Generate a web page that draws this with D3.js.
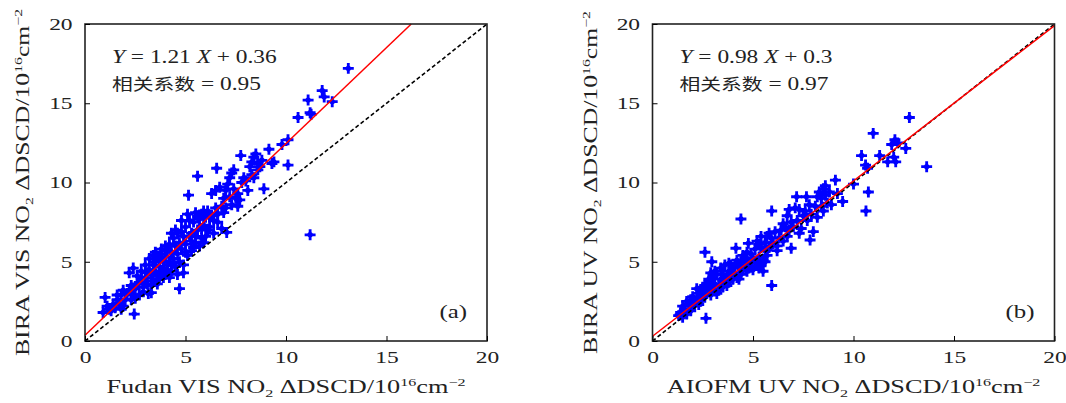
<!DOCTYPE html>
<html>
<head>
<meta charset="utf-8">
<script src="https://cdn.jsdelivr.net/npm/d3@7"></script>
<style>
  body { margin: 0; background: #fff; }
  text { font-family: "Liberation Serif", "Noto Sans CJK SC", serif; fill: #222; }
</style>
</head>
<body>
<script>
// axis ticks, shared by both panels
var ticks = [0, 5, 10, 15, 20];

// panel (a): Fudan VIS vs BIRA VIS
var fudanVis = [
  [0.9,1.8],[1.0,2.75],[1.2,2.0],[1.3,1.9],[1.4,2.3],[1.5,2.1],[1.6,2.6],[1.7,2.4],[1.8,2.9],[1.9,3.2],[1.9,2.2],[2.0,2.6],[1.1,2.2],[1.6,2.9],[1.8,2.0],
  [2.1,3.0],[2.2,4.3],[2.4,4.6],[2.45,1.7],[2.3,2.6],[2.5,3.3],[2.6,3.6],[2.7,2.9],[2.8,3.9],[2.9,3.4],[2.6,4.1],[2.3,3.5],[2.8,4.4],[2.9,3.1],[2.5,2.7],[2.7,3.7],[2.2,3.2],[2.4,2.9],
  [3.0,4.0],[3.1,3.6],[3.15,3.0],[3.2,4.5],[3.3,4.2],[3.3,3.05],[3.4,4.8],[3.4,3.8],[3.5,5.0],[3.5,4.4],[3.6,4.1],[3.6,5.3],[3.7,4.7],[3.7,3.9],[3.8,5.5],[3.8,4.3],[3.9,5.0],[3.9,4.6],[3.2,5.2],[3.0,4.8],[3.5,5.6],[3.8,5.8],[3.3,3.5],[3.6,3.6],[3.9,4.0],[3.4,5.4],[3.1,4.3],[3.7,5.1],
  [4.0,5.3],[4.0,4.2],[4.1,5.7],[4.1,4.8],[4.2,6.1],[4.2,5.0],[4.3,4.4],[4.3,5.6],[4.4,6.5],[4.4,5.2],[4.5,6.0],[4.5,4.7],[4.6,5.5],[4.6,6.8],[4.7,3.3],[4.7,6.2],[4.8,7.6],[4.8,5.8],[4.9,4.8],[4.9,4.3],[4.9,6.6],[4.0,6.0],[4.2,4.0],[4.5,7.0],[4.3,6.8],[4.7,5.0],[4.1,4.5],[4.6,4.2],[4.4,4.9],[4.8,6.9],
  [5.0,6.1],[5.0,7.2],[5.1,5.4],[5.1,8.0],[5.15,9.2],[5.2,6.6],[5.3,6.8],[5.3,5.7],[5.4,7.5],[5.5,6.2],[5.5,8.1],[5.6,10.4],[5.6,7.0],[5.7,6.0],[5.7,7.7],[5.8,6.5],[5.8,8.0],[5.9,7.3],[5.9,6.2],[5.2,7.6],[5.4,5.9],[5.6,7.9],[5.3,6.3],[5.5,6.6],[5.8,7.1],[5.0,5.6],[5.9,8.2],
  [6.0,7.8],[6.0,6.6],[6.1,8.2],[6.2,7.2],[6.3,9.3],[6.3,7.9],[6.4,6.8],[6.5,8.4],[6.55,10.9],[6.6,7.5],[6.7,9.7],[6.8,7.1],[6.8,8.5],[6.9,9.0],[6.9,8.1],[6.5,9.5],[6.2,7.8],[6.4,7.6],[6.1,7.0],[6.6,8.0],
  [7.0,8.4],[7.05,6.85],[7.1,9.9],[7.2,10.3],[7.3,10.6],[7.3,8.6],[7.4,9.6],[7.5,9.0],[7.6,8.5],[7.7,8.9],[7.75,11.7],[7.8,10.0],[7.9,10.3],[7.2,9.1],[7.4,10.8],[7.0,9.5],[7.6,9.3],[8.0,10.1],
  [8.1,9.5],[8.2,11.0],[8.3,10.5],[8.4,11.6],[8.5,11.8],[8.4,10.3],[8.6,11.2],[8.7,11.0],[8.9,9.6],[8.8,11.4],[8.3,11.3],[8.6,10.8],
  [9.15,12.1],[9.3,11.2],[9.4,11.3],[9.8,12.4],[10.1,12.7],[10.1,11.1],[10.6,14.1],[11.1,15.2],[11.2,14.4],[11.25,14.3],[11.2,6.7],[11.8,15.8],[11.9,15.4],[12.3,15.1],[13.1,17.2]
];

// panel (b): AIOFM UV vs BIRA UV
var aiofmUv = [
  [1.3,1.6],[1.37,1.64],[1.4,1.8],[1.5,1.5],[1.6,2.0],[1.7,1.7],[1.8,2.3],[1.9,1.9],[1.9,2.6],[1.5,2.2],[1.7,2.5],[2.0,2.2],
  [2.0,2.8],[2.1,2.3],[2.2,2.6],[2.3,3.0],[2.4,2.5],[2.5,3.4],[2.6,2.9],[2.61,5.6],[2.66,1.43],[2.7,3.6],[2.8,3.1],[2.9,4.3],[2.95,5.0],[2.9,3.5],[2.2,3.3],[2.5,2.8],[2.7,3.0],[2.4,3.2],[2.8,3.9],[2.3,2.3],[2.6,3.5],[2.9,2.9],
  [3.0,3.3],[3.0,4.0],[3.1,3.6],[3.2,3.0],[3.2,4.2],[3.3,3.5],[3.4,3.9],[3.4,4.6],[3.5,3.4],[3.5,4.2],[3.6,3.8],[3.6,4.8],[3.7,4.0],[3.8,4.4],[3.8,3.7],[3.9,4.1],[3.9,4.8],[3.3,3.2],[3.7,3.5],[3.1,4.4],[3.5,3.8],[3.8,4.9],
  [4.0,4.3],[4.0,3.9],[4.1,4.7],[4.15,5.85],[4.2,4.0],[4.3,4.6],[4.4,4.2],[4.4,5.0],[4.4,7.7],[4.5,4.5],[4.6,5.2],[4.6,4.8],[4.7,4.4],[4.77,6.16],[4.8,5.0],[4.9,5.5],[4.9,4.7],[4.2,5.1],[4.5,5.4],[4.3,3.9],[4.7,5.6],[4.8,4.6],
  [5.0,5.2],[5.0,4.5],[5.1,5.8],[5.2,4.9],[5.2,6.3],[5.3,5.3],[5.3,4.6],[5.4,5.9],[5.4,6.6],[5.5,5.1],[5.5,4.4],[5.6,5.7],[5.6,6.2],[5.7,5.4],[5.7,6.6],[5.8,5.9],[5.9,6.0],[5.93,8.2],[5.93,3.5],[5.9,6.5],[5.1,5.0],[5.3,6.1],[5.6,5.0],[5.8,6.8],[5.4,4.8],
  [6.0,6.2],[6.1,6.9],[6.2,6.0],[6.3,6.5],[6.4,7.0],[6.5,6.3],[6.6,7.2],[6.7,6.6],[6.8,8.3],[6.8,7.0],[6.9,5.85],[6.9,7.5],[6.2,5.7],[6.5,7.4],[6.7,7.9],
  [7.0,7.2],[7.1,8.4],[7.17,9.1],[7.2,7.6],[7.3,8.3],[7.4,7.1],[7.5,7.9],[7.6,8.2],[7.66,9.1],[7.7,7.6],[7.84,6.37],[7.9,8.0],[8.0,6.9],[7.8,8.6],[7.3,6.8],
  [8.1,8.5],[8.2,7.8],[8.3,9.4],[8.4,9.0],[8.5,9.6],[8.5,8.2],[8.6,9.2],[8.7,8.7],[8.8,9.4],[8.9,8.6],[8.4,8.5],[8.6,9.8],[8.2,9.1],
  [9.1,10.15],[9.2,9.3],[9.46,8.8],[10.0,9.9],[10.4,11.7],[10.6,11.1],[10.62,8.2],[10.74,9.4],[10.7,10.9],[10.98,13.1],[11.3,11.7],[11.7,11.3],[11.9,12.4],[12.0,11.6],[12.06,12.7],[12.1,11.3],[12.2,12.5],[12.6,12.15],[12.78,14.1],[13.64,11.0]
];

// fit lines [slope, intercept] and 1:1 reference line
var fitA = [1.21, 0.36];
var fitB = [0.98, 0.3];
var oneToOne = [[0, 0], [20, 20]];

// the original figure is wide-set, so text gets stretched sideways
var SX = 1.38;

// thick plus with a filled diamond centre
var starSymbol = {
  draw: function(ctx, size) {
    var r = Math.sqrt(size) / 2, a = r * 0.26, b = r * 0.72;
    ctx.moveTo(-a, -r); ctx.lineTo(a, -r); ctx.lineTo(a, -a);
    ctx.lineTo(r, -a); ctx.lineTo(r, a); ctx.lineTo(a, a);
    ctx.lineTo(a, r); ctx.lineTo(-a, r); ctx.lineTo(-a, a);
    ctx.lineTo(-r, a); ctx.lineTo(-r, -a); ctx.lineTo(-a, -a);
    ctx.closePath();
    ctx.moveTo(0, -b); ctx.lineTo(b, 0); ctx.lineTo(0, b); ctx.lineTo(-b, 0);
    ctx.closePath();
  }
};

var svg = d3.select("body").append("svg").attr("width", 1066).attr("height", 403);

function putText(g, x, y, size, rot, sx) {
  return g.append("text")
    .attr("transform", "translate(" + x + "," + y + ")" + (rot ? " rotate(" + rot + ")" : "") + " scale(" + (sx || SX) + ",1)")
    .style("font-size", size + "px");
}

function drawPanel(p) {
  var x = d3.scaleLinear().domain([0, 20]).range([p.left, p.left + 402]);
  var y = d3.scaleLinear().domain([0, 20]).range([341, 24]);
  var g = svg.append("g");

  // fitted line, clipped at y = 20
  var xEnd = Math.min(20, (20 - p.fit[1]) / p.fit[0]);
  var fitPts = [[0, p.fit[1]], [xEnd, p.fit[0] * xEnd + p.fit[1]]];

  var line = d3.line().x(function(d) { return x(d[0]); }).y(function(d) { return y(d[1]); });

  g.append("g").selectAll("path")
    .data(p.data)
    .enter().append("path")
      .attr("transform", function(d) { return "translate(" + x(d[0]) + "," + y(d[1]) + ")"; })
      .attr("d", d3.symbol().type(starSymbol).size(120))
      .attr("fill", "#0000ff");

  g.append("path").attr("d", line(oneToOne))
    .attr("fill", "none").attr("stroke", "#000").attr("stroke-width", 1.6)
    .attr("stroke-dasharray", "4,2.5");
  g.append("path").attr("d", line(fitPts))
    .attr("fill", "none").attr("stroke", "#ff0000").attr("stroke-width", 1.5);

  // frame
  g.append("rect").attr("x", x(0)).attr("y", y(20))
    .attr("width", x(20) - x(0)).attr("height", y(0) - y(20))
    .attr("fill", "none").attr("stroke", "#222").attr("stroke-width", 1.6);

  // inward ticks
  g.append("g").attr("transform", "translate(0,341)")
    .call(d3.axisBottom(x).tickValues(ticks).tickSize(-5).tickPadding(10).tickFormat(d3.format("d")))
    .call(function(a) { a.select(".domain").remove(); })
    .call(function(a) {
      a.selectAll("text").style("font-size", "17px").attr("fill", "#222")
        .attr("transform", "scale(" + SX + ",1)");
    });
  g.append("g").attr("transform", "translate(" + p.left + ",0)")
    .call(d3.axisLeft(y).tickValues(ticks).tickSize(-5).tickPadding(9).tickFormat(d3.format("d")))
    .call(function(a) { a.select(".domain").remove(); })
    .call(function(a) {
      a.selectAll("text").style("font-size", "17px").attr("fill", "#222")
        .attr("transform", "scale(" + SX + ",1)");
    });

  // equation block
  var eq = putText(g, p.left + 27, 63, 18, 0, 1.3);
  eq.append("tspan").attr("font-style", "italic").text("Y");
  eq.append("tspan").text(" = " + p.fit[0] + " ");
  eq.append("tspan").attr("font-style", "italic").text("X");
  eq.append("tspan").text(" + " + p.fit[1]);
  var rr = putText(g, p.left + 27, 90, 18, 0, 1.3);
  rr.append("tspan").style("font-size", "16px").text("相关系数");
  rr.append("tspan").text(" = " + p.r);

  putText(g, x(20) - 20, 318, 18).attr("text-anchor", "end").text(p.tag);

  // axis titles
  var xl = putText(g, (x(0) + x(20)) / 2, 393, 18, 0, 1.46).attr("text-anchor", "middle");
  axisTitle(xl, p.xName);
  var yl = putText(g, p.left - 56, (y(0) + y(20)) / 2, 18, -90, 1.43).attr("text-anchor", "middle");
  axisTitle(yl, p.yName);
}

function axisTitle(el, name) {
  el.append("tspan").text(name + " NO");
  el.append("tspan").attr("dy", 4).style("font-size", "11px").text("2");
  el.append("tspan").attr("dy", -4).text(" \u0394DSCD/10");
  el.append("tspan").attr("dy", -7).style("font-size", "11px").text("16");
  el.append("tspan").attr("dy", 7).text("cm");
  el.append("tspan").attr("dy", -7).style("font-size", "11px").text("\u22122");
}

drawPanel({ left: 85, data: fudanVis, fit: fitA, r: "0.95", tag: "(a)", xName: "Fudan VIS", yName: "BIRA VIS" });
drawPanel({ left: 652.5, data: aiofmUv, fit: fitB, r: "0.97", tag: "(b)", xName: "AIOFM UV", yName: "BIRA UV" });
</script>
</body>
</html>
